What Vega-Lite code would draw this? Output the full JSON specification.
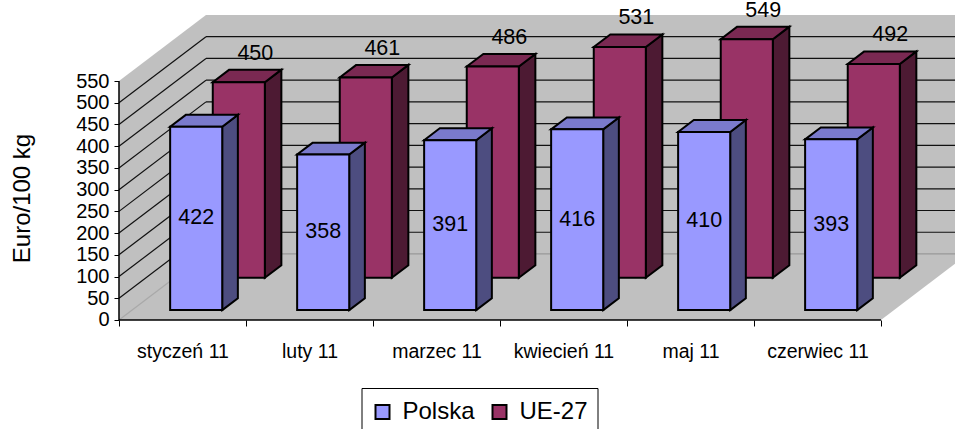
{
"$schema":"https://vega.github.io/schema/vega-lite/v6.json",
"width":955,"height":429,"padding":0,"autosize":{"type":"none"},
"background":"white",
"config":{"view":{"stroke":null},"font":"Liberation Sans"},
"datasets":{
"bars":[
{"month":"styczeń 11","idx":0,"series":"Polska","value":422},{"month":"luty 11","idx":1,"series":"Polska","value":358},{"month":"marzec 11","idx":2,"series":"Polska","value":391},{"month":"kwiecień 11","idx":3,"series":"Polska","value":416},{"month":"maj 11","idx":4,"series":"Polska","value":410},{"month":"czerwiec 11","idx":5,"series":"Polska","value":393},
{"month":"styczeń 11","idx":0,"series":"UE-27","value":450},{"month":"luty 11","idx":1,"series":"UE-27","value":461},{"month":"marzec 11","idx":2,"series":"UE-27","value":486},{"month":"kwiecień 11","idx":3,"series":"UE-27","value":531},{"month":"maj 11","idx":4,"series":"UE-27","value":549},{"month":"czerwiec 11","idx":5,"series":"UE-27","value":492}],
"ticks":[{"tick":0},{"tick":50},{"tick":100},{"tick":150},{"tick":200},{"tick":250},{"tick":300},{"tick":350},{"tick":400},{"tick":450},{"tick":500}],
"depths":[{"d":0},{"d":1}]
},
"encoding":{
"x":{"field":"x","type":"quantitative","scale":{"domain":[-0.937,6.583],"nice":false,"zero":false},
"axis":{"title":null,"orient":"bottom","offset":-109,"domain":false,"grid":false,"values":[0,0.5,1,1.5,2,2.5,3,3.5,4,4.5,5,5.5,6],
"labelExpr":"datum.value % 1 !== 0 ? ['styczeń 11','luty 11','marzec 11','kwiecień 11','maj 11','czerwiec 11'][floor(datum.value)] : ''",
"tickOpacity":{"condition":{"test":"datum.value % 1 !== 0","value":0},"value":1},
"tickColor":"#000","tickSize":6,"labelFontSize":19.5,"labelColor":"#000","labelPadding":16,"labelOverlap":false,"labelFlush":false,"labelBound":false,"labelFont":"Liberation Sans"}},
"y":{"field":"y","type":"quantitative","scale":{"domain":[-250.9,736.5],"nice":false,"zero":false},
"axis":{"title":"Euro/100 kg","titleFont":"Liberation Sans","titleFontSize":24,"titleFontWeight":"normal","titleColor":"#000","titleX":-85,"titleY":198,"orient":"left","offset":-119,"domain":false,"grid":false,"values":[0,50,100,150,200,250,300,350,400,450,500,550],"tickColor":"#000","tickSize":5,"labelFontSize":20,"labelColor":"#000","labelPadding":5,"labelOverlap":false,"labelBound":false,"labelFont":"Liberation Sans"}}
},
"layer":[
{"data":{"name":"depths"},"transform":[{"calculate":"datum.d*0.685","as":"x"},{"calculate":"datum.d*152","as":"y"},{"calculate":"550+datum.d*152","as":"ye"}],
 "mark":{"type":"area","color":"#c0c0c0","orient":"vertical"},"encoding":{"y2":{"field":"ye"}}},
{"data":{"name":"depths"},"transform":[{"calculate":"datum.d*152","as":"y"},{"calculate":"datum.d*0.685","as":"x"},{"calculate":"6+datum.d*0.685","as":"xe"}],
 "mark":{"type":"area","color":"#c0c0c0","orient":"horizontal"},"encoding":{"x2":{"field":"xe"}}},
{"data":{"name":"depths"},"transform":[{"filter":"datum.d===1"},{"calculate":"0.685","as":"x"},{"calculate":"6.685","as":"xe"},{"calculate":"152","as":"y"},{"calculate":"702","as":"ye"}],
 "mark":{"type":"rect","color":"#c0c0c0"},"encoding":{"x2":{"field":"xe"},"y2":{"field":"ye"}}},
{"data":{"name":"ticks"},"transform":[{"calculate":"0","as":"x"},{"calculate":"0.685","as":"xe"},{"calculate":"datum.tick","as":"y"},{"calculate":"datum.tick+152","as":"ye"}],
 "mark":{"type":"rule","strokeWidth":1.2},"encoding":{"x2":{"field":"xe"},"y2":{"field":"ye"},"color":{"condition":{"test":"datum.tick===0","value":"#a8a8a8"},"value":"#111111"}}},
{"data":{"name":"ticks"},"transform":[{"calculate":"0.685","as":"x"},{"calculate":"6.685","as":"xe"},{"calculate":"datum.tick+152","as":"y"}],
 "mark":{"type":"rule","strokeWidth":1.2},"encoding":{"x2":{"field":"xe"},"color":{"condition":{"test":"datum.tick===0","value":"#989898"},"value":"#111111"}}},
{"data":{"name":"ticks"},"transform":[{"filter":"datum.tick===0"},{"calculate":"0","as":"x"},{"calculate":"6","as":"xe"},{"calculate":"0","as":"y"}],
 "mark":{"type":"rule","color":"#000","strokeWidth":1.5},"encoding":{"x2":{"field":"xe"}}},
{"data":{"name":"ticks"},"transform":[{"filter":"datum.tick===0"},{"calculate":"0","as":"x"},{"calculate":"0","as":"y"},{"calculate":"550","as":"ye"}],
 "mark":{"type":"rule","color":"#000","strokeWidth":1.5},"encoding":{"y2":{"field":"ye"}}},
{"data":{"name":"bars"},
 "transform":[
  {"calculate":"datum.idx+0.30","as":"l"},{"calculate":"datum.idx+0.71","as":"r"},
  {"calculate":"datum.series==='Polska'?0.15:0.64","as":"f"},{"calculate":"datum.series==='Polska'?0.33:0.83","as":"b"},
  {"calculate":"[0,1]","as":"t"},{"flatten":["t"]},
  {"calculate":"datum.f+datum.t*(datum.b-datum.f)","as":"dep"}
 ],
 "layer":[
  {"transform":[{"filter":"datum.series==='UE-27'"},{"calculate":"datum.r+datum.dep*0.685","as":"x"},{"calculate":"datum.dep*152","as":"y"},{"calculate":"datum.value+datum.dep*152","as":"ye"}],
   "mark":{"type":"area","orient":"vertical","fill":"#4d1a33","stroke":"#000","strokeWidth":2},"encoding":{"y2":{"field":"ye"},"detail":{"field":"month"}}},
  {"transform":[{"filter":"datum.series==='UE-27'"},{"calculate":"datum.l+datum.dep*0.685","as":"x"},{"calculate":"datum.r+datum.dep*0.685","as":"xe"},{"calculate":"datum.value+datum.dep*152","as":"y"}],
   "mark":{"type":"area","orient":"horizontal","fill":"#7a2952","stroke":"#000","strokeWidth":2},"encoding":{"x2":{"field":"xe"},"detail":{"field":"month"}}},
  {"transform":[{"filter":"datum.series==='UE-27' && datum.t===0"},{"calculate":"datum.l+datum.f*0.685","as":"x"},{"calculate":"datum.r+datum.f*0.685","as":"xe"},{"calculate":"datum.f*152","as":"y"},{"calculate":"datum.value+datum.f*152","as":"ye"}],
   "mark":{"type":"rect","stroke":"#000","strokeWidth":2},"encoding":{"x2":{"field":"xe"},"y2":{"field":"ye"},
   "color":{"field":"series","type":"nominal","scale":{"domain":["Polska","UE-27"],"range":["#9999ff","#993366"]},
    "legend":{"title":null,"orient":"none","legendX":361.5,"legendY":388,"direction":"horizontal","strokeColor":"#000","fillColor":"#fff","padding":9,"labelFont":"Liberation Sans","labelFontSize":24,"labelColor":"#000","labelOffset":8,"symbolType":"square","symbolSize":196,"symbolStrokeColor":"#000","symbolStrokeWidth":2,"columnPadding":12,"symbolOpacity":1,"clipHeight":30}}}},
  {"transform":[{"filter":"datum.series==='Polska'"},{"calculate":"datum.r+datum.dep*0.685","as":"x"},{"calculate":"datum.dep*152","as":"y"},{"calculate":"datum.value+datum.dep*152","as":"ye"}],
   "mark":{"type":"area","orient":"vertical","fill":"#4d4d80","stroke":"#000","strokeWidth":2},"encoding":{"y2":{"field":"ye"},"detail":{"field":"month"}}},
  {"transform":[{"filter":"datum.series==='Polska'"},{"calculate":"datum.l+datum.dep*0.685","as":"x"},{"calculate":"datum.r+datum.dep*0.685","as":"xe"},{"calculate":"datum.value+datum.dep*152","as":"y"}],
   "mark":{"type":"area","orient":"horizontal","fill":"#7a7acc","stroke":"#000","strokeWidth":2},"encoding":{"x2":{"field":"xe"},"detail":{"field":"month"}}},
  {"transform":[{"filter":"datum.series==='Polska' && datum.t===0"},{"calculate":"datum.l+datum.f*0.685","as":"x"},{"calculate":"datum.r+datum.f*0.685","as":"xe"},{"calculate":"datum.f*152","as":"y"},{"calculate":"datum.value+datum.f*152","as":"ye"}],
   "mark":{"type":"rect","stroke":"#000","strokeWidth":2},"encoding":{"x2":{"field":"xe"},"y2":{"field":"ye"},
   "color":{"field":"series","type":"nominal","scale":{"domain":["Polska","UE-27"],"range":["#9999ff","#993366"]}}}},
  {"transform":[{"filter":"datum.series==='Polska' && datum.t===0"},{"calculate":"(datum.l+datum.r)/2+datum.f*0.685","as":"x"},{"calculate":"datum.value/2+datum.f*152","as":"y"}],
   "mark":{"type":"text","font":"Liberation Sans","fontSize":21.5,"color":"#000","baseline":"middle","align":"center"},"encoding":{"text":{"field":"value","type":"quantitative"}}},
  {"transform":[{"filter":"datum.series==='UE-27' && datum.t===0"},{"calculate":"(datum.l+datum.r)/2+datum.b*0.685","as":"x"},{"calculate":"datum.value+datum.b*152","as":"y"}],
   "mark":{"type":"text","font":"Liberation Sans","fontSize":21.5,"color":"#000","baseline":"middle","align":"center","dy":-16},"encoding":{"text":{"field":"value","type":"quantitative"}}}
 ]}
]
}
